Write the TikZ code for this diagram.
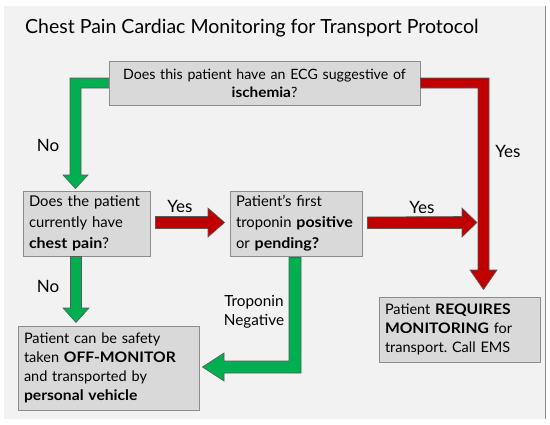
\documentclass[tikz,border=0pt]{standalone}
\usepackage{fontspec}
\setmainfont{Lato}[BoldFeatures={FakeStretch=1.08}]
\usetikzlibrary{calc}
\definecolor{bgc}{HTML}{F2F2F2}
\definecolor{boxfill}{HTML}{D9D9D9}
\definecolor{boxline}{HTML}{8C8C8C}
\definecolor{garr}{HTML}{00B050}
\definecolor{rarr}{HTML}{C00000}
\begin{document}
\frenchspacing\hyphenpenalty=10000\exhyphenpenalty=10000
\begin{tikzpicture}[x=1pt,y=-1pt,
  box/.style={draw=boxline, fill=boxfill, line width=0.9pt, inner xsep=6pt, inner ysep=0pt},
  lbl/.style={font=\fontsize{17}{20}\selectfont, inner sep=0pt},
  garrow/.style={fill=garr, draw=black!65, line width=0.6pt, line join=miter},
  rarrow/.style={fill=rarr, draw=black!65, line width=0.6pt, line join=miter}]
\useasboundingbox (0,0) rectangle (550,424);
\fill[white] (0,0) rectangle (550,424);
\fill[bgc] (4,6) rectangle (545,419);
\draw[black!45, line width=1pt] (545,6) -- (545,419);

\node[inner sep=0pt, anchor=base west, font=\fontsize{19.5}{22}\selectfont] (title) at (25,33) {Chest Pain Cardiac Monitoring for Transport Protocol};

\node[box, minimum width=311pt, minimum height=44pt, text width=299pt, align=center, font=\fontsize{14.2}{18}\selectfont] (q1) at (264.5,83)
  {Does this patient have an ECG suggestive of\\ \textbf{ischemia}?};
\node[box, minimum width=127pt, minimum height=65pt, text width=115pt, align=left, font=\fontsize{14.8}{21}\selectfont] (q2) at (86.5,223.5)
  {Does the patient\\ currently have\\ \textbf{chest pain}?};
\node[box, minimum width=132pt, minimum height=65pt, text width=120pt, align=left, font=\fontsize{14.8}{21}\selectfont] (q3) at (296,223.5)
  {Patient’s first\\ troponin \textbf{positive}\\ or \textbf{pending?}};
\node[box, minimum width=161pt, minimum height=65pt, text width=149pt, align=left, font=\fontsize{14.5}{19}\selectfont] (r4) at (459.5,329.5)
  {Patient \textbf{REQUIRES}\\ \textbf{MONITORING} for\\ transport. Call EMS};
\node[box, minimum width=181pt, minimum height=84pt, text width=169pt, align=left, font=\fontsize{14.5}{19}\selectfont] (r5) at (108.5,368)
  {Patient can be safety\\ taken \textbf{OFF-MONITOR}\\ and transported by\\ \textbf{personal vehicle}};

% green: q1 -> q2
\draw[garrow] ($(q1.west)+(0,-5)$) -- (70,78) -- (70,175) -- (63,175) -- ($(q2.north)+(-11,-2)$) -- (88,175) -- (81,175) -- (81,88) -- ($(q1.west)+(0,5)$) -- cycle;
% red: q1 -> r4
\draw[rarrow] ($(q1.east)+(0,-5)$) -- (489,78) -- (489,270) -- (497,270) -- ($(r4.north)+(24,-7)$) -- (470,270) -- (478,270) -- (478,88) -- ($(q1.east)+(0,5)$) -- cycle;
% red: q2 -> q3
\draw[rarrow] ($(q2.east)+(5,-7)$) -- (208,216.5) -- (208,208) -- ($(q3.west)+(-5,-1)$) -- (208,237) -- (208,228.5) -- ($(q2.east)+(5,5)$) -- cycle;
% red: q3 -> right
\draw[rarrow] ($(q3.east)+(5,-6.5)$) -- (462,216.5) -- (462,208) -- (477,222.5) -- (462,237) -- (462,228.5) -- ($(q3.east)+(5,5)$) -- cycle;
% green: q2 -> r5
\draw[garrow] ($(q2.south)+(-16,0)$) -- (70.5,308) -- (63,308) -- ($(r5.north)+(-32.5,-3)$) -- (89,308) -- (81.5,308) -- ($(q2.south)+(-5,0)$) -- cycle;
% green: q3 -> r5
\draw[garrow] ($(q3.south)+(-7,1)$) -- (289,361) -- (224,361) -- (224,353) -- ($(r5.east)+(3,-1)$) -- (224,381) -- (224,373) -- (301,373) -- ($(q3.south)+(5,1)$) -- cycle;

\node[lbl] (no1) at (48,145) {No};
\node[lbl] (no2) at (48,286) {No};
\node[lbl] (yes1) at (180,206) {Yes};
\node[lbl] (yes2) at (422,207) {Yes};
\node[lbl] (yes3) at (508,151) {Yes};
\node[inner sep=0pt, align=center, font=\fontsize{15.3}{19}\selectfont] (neg) at (254,312) {Troponin\\ Negative};
\end{tikzpicture}
\end{document}
